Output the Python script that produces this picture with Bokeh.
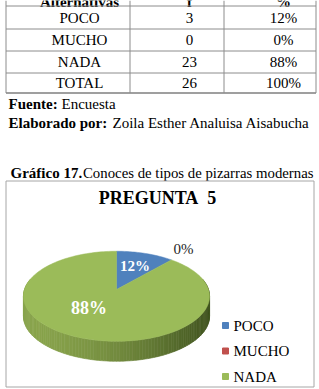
import numpy as np
from bokeh.plotting import figure
from bokeh.models import Range1d
from bokeh.core.properties import value
from bokeh.embed import file_html
from bokeh.resources import INLINE

# ---------------- data ----------------
header = ["Alternativas", "f", "%"]
categories = ["POCO", "MUCHO", "NADA"]
freq = [3, 0, 23]
pct_labels = ["12%", "0%", "88%"]
total_label = "TOTAL"
total_freq = 26
total_pct = "100%"
chart_title = "PREGUNTA\u00a0\u00a05"
caption_bold = "Gráfico 17."
caption_text = "Conoces de tipos de pizarras modernas"
source_bold = "Fuente:"
source_text = "Encuesta"
author_bold = "Elaborado por:"
author_text = "Zoila Esther Analuisa Aisabucha"
colors = ["#4F81BD", "#C0504D", "#9BBB59"]

FONT = "Liberation Serif"

p = figure(width=319, height=389, x_range=Range1d(0, 319), y_range=Range1d(389, 0),
           output_backend="svg", toolbar_location=None, min_border=0,
           x_axis_location=None, y_axis_location=None)
p.min_border_left = p.min_border_right = p.min_border_top = p.min_border_bottom = 0
p.outline_line_color = None
p.grid.visible = False
p.background_fill_color = "white"
p.border_fill_color = "white"


def txt(x, y, s, size="15px", bold=False, align="left", color="black", baseline="middle"):
    p.text(x=x if isinstance(x, list) else [x], y=y if isinstance(y, list) else [y],
           text=s if isinstance(s, list) else [s],
           text_font=value(FONT), text_font_size=value(size),
           text_font_style="bold" if bold else "normal",
           text_align=align, text_baseline=baseline, text_color=color)


# ---------------- table ----------------
col_x = [79, 189, 283]
row_top = [5.5, 28.5, 50.5, 72.5]
row_bot = [28.5, 50.5, 72.5, 92.5]
row_mid = [(a + b) / 2 for a, b in zip(row_top, row_bot)]
tx_left, tx_right = 5.5, 315.5
vlines = [5.5, 129.5, 223.5, 315.5]

# header row: only its lower edge is visible at the top of the page
txt(col_x, [1.0] * 3, header, bold=True, align="center", baseline="alphabetic")

rows_c1 = categories + [total_label]
rows_c2 = [str(v) for v in freq] + [str(total_freq)]
rows_c3 = pct_labels + [total_pct]
txt(col_x[0:1] * 4, row_mid, rows_c1, align="center")
txt(col_x[1:2] * 4, row_mid, rows_c2, align="center")
txt(col_x[2:3] * 4, row_mid, rows_c3, align="center")

hy = [row_top[0]] + row_bot[:-1]
p.segment(x0=[tx_left] * len(hy), x1=[tx_right] * len(hy), y0=hy, y1=hy,
          line_color="#8c8c8c", line_width=1)
p.segment(x0=[tx_left], x1=[tx_right], y0=[row_bot[-1]], y1=[row_bot[-1]],
          line_color="#404040", line_width=1.2)
p.segment(x0=vlines, x1=vlines, y0=[0] * 4, y1=[row_bot[-1]] * 4,
          line_color="#8c8c8c", line_width=1)

# source lines
txt(8, 103, source_bold, bold=True)
txt(61, 103, source_text)
txt(8, 122, author_bold, bold=True)
txt(112, 122, author_text)

# caption
txt(10, 172, caption_bold, bold=True)
txt(82.5, 172, caption_text, size="14.8px")

# chart box
p.quad(left=[5.5], right=[313.5], top=[180.5], bottom=[386.5], fill_color="white",
       line_color="#a6a6a6", line_width=1)
txt(157, 197, chart_title, size="18px", bold=True, align="center")

# ---------------- 3D pie ----------------
cx, cy, rx, ry, e, depth = 116.0, 289.0, 92.0, 44.0, 0.15, 20.0


def proj(t):
    u, v = np.cos(t), np.sin(t)
    d = 1 + e * v
    return cx + rx * u / d, cy - ry * v / d


# side (cylinder wall) with gradient
ts = np.linspace(np.pi - 0.25, 2 * np.pi + 0.25, 121)
sx, sy = proj(ts)
xmin, xmax = sx.min(), sx.max()
c0 = np.array([138, 165, 77])
c1 = np.array([66, 85, 32])
side_xs, side_ys, side_cols = [], [], []
for i in range(len(ts) - 1):
    xa, xb = sx[i], sx[i + 1]
    ya, yb = sy[i], sy[i + 1]
    side_xs.append([xa, xb, xb, xa])
    side_ys.append([ya, yb, yb + depth, ya + depth])
    f = ((xa + xb) / 2 - xmin) / (xmax - xmin)
    c = c0 + (c1 - c0) * (f ** 1.6)
    side_cols.append("#%02x%02x%02x" % tuple(int(round(k)) for k in c))
p.patches(xs=side_xs, ys=side_ys, fill_color=side_cols, line_color=side_cols, line_width=0.6)

# top face wedges
total = float(sum(freq))
fracs = [v / total for v in freq]
start = 0.0
w_xs, w_ys, w_cols = [], [], []
mid_angles = []
for fr, col in zip(fracs, colors):
    a0 = np.pi / 2 - 2 * np.pi * start
    a1 = np.pi / 2 - 2 * np.pi * (start + fr)
    mid_angles.append((a0 + a1) / 2)
    if fr > 0:
        tt = np.linspace(a0, a1, max(4, int(200 * fr)))
        ax, ay = proj(tt)
        w_xs.append([cx] + list(ax))
        w_ys.append([cy] + list(ay))
        w_cols.append(col)
    start += fr
p.patches(xs=w_xs, ys=w_ys, fill_color=w_cols, line_color=w_cols, line_width=0.5)

# data labels (radial placement from each slice's mid angle)
lab_r = [0.62, 1.25, 0.0]
lab_x, lab_y = [], []
for ang, r in zip(mid_angles, lab_r):
    u, v = r * np.cos(ang), r * np.sin(ang)
    d = 1 + e * v
    lab_x.append(cx + rx * u / d)
    lab_y.append(cy - ry * v / d)
# the large slice label sits at the left part of the face (best-fit placement)
lab_x[2] = cx - 0.3 * rx
lab_y[2] = cy + 0.42 * ry
txt(lab_x[0], lab_y[0], pct_labels[0], size="15px", bold=True, align="center", color="white")
txt(lab_x[1], lab_y[1] - 4, pct_labels[1], size="15px", align="center", color="#262626")
txt(lab_x[2], lab_y[2], pct_labels[2], size="18px", bold=True, align="center", color="white")

# legend
leg_y = [325 + 25.5 * i for i in range(len(categories))]
p.scatter(x=[225] * len(categories), y=leg_y, marker="square", size=6,
          fill_color=colors, line_color=colors)
txt([233] * len(categories), leg_y, categories, size="15px")

open("out.html", "w").write(file_html(p, INLINE))
